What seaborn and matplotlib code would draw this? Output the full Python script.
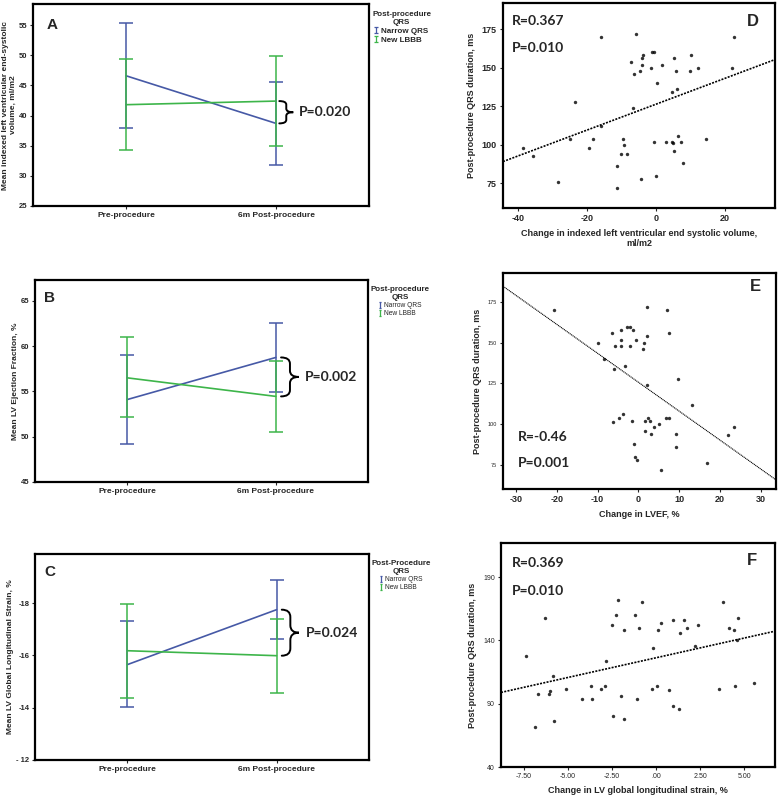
import numpy as np
import pandas as pd
import matplotlib
matplotlib.use("Agg")
import matplotlib.pyplot as plt
import seaborn as sns
from matplotlib.path import Path
from matplotlib.patches import PathPatch
from matplotlib.lines import Line2D

sns.set_style("ticks")
plt.rcParams['font.family'] = ['Liberation Sans', 'DejaVu Sans']
plt.rcParams['axes.linewidth'] = 1.6

BLUE = '#4659a6'
GREEN = '#3db54a'

time_labels = ['Pre-procedure', '6m Post-procedure']
groups = ['Narrow QRS', 'New LBBB']

# ---- Panel A: indexed LVESV ----
a_narrow_mean = [46.6, 38.7]
a_narrow_lo = [38.0, 31.8]
a_narrow_hi = [55.3, 45.6]
a_lbbb_mean = [41.8, 42.4]
a_lbbb_lo = [34.3, 34.9]
a_lbbb_hi = [49.3, 49.9]

# ---- Panel B: LVEF ----
b_narrow_mean = [54.1, 58.75]
b_narrow_lo = [49.2, 54.9]
b_narrow_hi = [59.0, 62.6]
b_lbbb_mean = [56.5, 54.45]
b_lbbb_lo = [52.2, 50.55]
b_lbbb_hi = [61.0, 58.4]

# ---- Panel C: GLS ----
c_narrow_mean = [-15.65, -17.75]
c_narrow_lo = [-13.99, -16.63]
c_narrow_hi = [-17.28, -18.86]
c_lbbb_mean = [-16.18, -15.99]
c_lbbb_lo = [-14.41, -14.57]
c_lbbb_hi = [-17.97, -17.43]

# ---- Panel D: change in LVESVi vs QRS ----
d_x = [-15.9, -5.9, 22.6, -1.2, -0.5, 10.1, -3.7, -4.2, 5.3, -7.4, -4.1, 1.7,
       -1.4, 12.2, 21.9, -4.6, 5.8, 9.8, -6.4, 0.1, 5.9, 4.7, -23.6, -6.8,
       -16.1, -25.0, -18.5, -9.7, 6.3, 14.6, -0.5, 2.8, 4.5, 4.8, 7.1, -38.8,
       -19.4, -9.3, -35.9, -10.2, -8.6, 5.3, 7.9, -11.5, -28.6, -4.5, -0.2, -11.3]
d_y = [170, 172, 170, 160, 160, 158, 158, 156, 156, 154, 152, 152,
       150, 150, 150, 148, 148, 148, 146, 140, 136, 134, 128, 124,
       112, 104, 104, 104, 106, 104, 102, 102, 102, 101, 102, 98,
       98, 100, 93, 94, 94, 96, 88, 86, 76, 78, 80, 72]

# ---- Panel E: change in LVEF vs QRS ----
e_x = [-20.8, 2.0, 7.0, -2.9, -2.0, -1.4, -4.4, -6.4, 7.6, 2.2, -4.4, -0.5,
       -10.0, 1.4, -5.8, -4.4, -2.0, 1.1, -8.4, -5.9, -3.3, 9.7, 2.1, 13.1,
       -4.7, -3.8, 2.4, 6.8, 7.6, -6.3, -1.6, 1.5, 2.9, 5.1, 3.8, 1.6,
       3.1, 9.3, 23.5, 22.0, -1.0, 9.3, -0.8, -0.4, 16.7, 5.6]
e_y = [170, 172, 170, 160, 160, 158, 158, 156, 156, 154, 152, 152,
       150, 150, 148, 148, 148, 146, 140, 134, 136, 128, 124, 112,
       104, 106, 104, 104, 104, 101, 102, 102, 102, 100, 98, 96,
       94, 94, 98, 93, 88, 86, 80, 78, 76, 72]

# ---- Panel F: change in GLS vs QRS ----
f_x = [-2.15, -0.81, 3.82, -6.29, -2.29, -1.19, 4.63, 0.28, 0.98, 1.61, -2.50,
       -1.00, 1.78, 2.40, 4.14, -1.80, 0.13, 4.42, 1.38, 4.57, 2.23, -0.15,
       -7.39, -2.85, -5.86, -6.73, -6.11, -6.01, -5.12, -3.71, -3.14, -2.93,
       -0.25, 0.04, 0.74, 3.55, 4.46, 5.54, -4.20, -3.63, -1.97, -1.06, 0.95,
       1.29, -2.46, -1.85, -5.82, -6.88]
f_y = [172, 170, 170, 158, 160, 160, 158, 154, 156, 156, 152,
       150, 150, 152, 150, 148, 148, 148, 146, 140, 136, 134,
       128, 124, 112, 98, 98, 100, 102, 104, 102, 104,
       102, 104, 101, 102, 104, 106, 94, 94, 96, 94, 88,
       86, 80, 78, 76, 72]

W, H = 778, 796
fig = plt.figure(figsize=(W / 100, H / 100), dpi=100)

IBEAM = Path([(-0.45, 1), (0.45, 1), (0, 1), (0, -1), (-0.45, -1), (0.45, -1)],
             [Path.MOVETO, Path.LINETO, Path.MOVETO, Path.LINETO, Path.MOVETO, Path.LINETO])


def rect(left, top, right, bottom):
    return [left / W, 1 - bottom / H, (right - left) / W, (bottom - top) / H]


def brace(ax, x0, y_top, y_bot, w):
    ym = (y_top + y_bot) / 2
    h = y_top - y_bot
    q = h * 0.16
    xm = x0 + w * 0.5
    verts = [(x0, y_top), (xm, y_top), (xm, y_top - q),
             (xm, ym + q),
             (xm, ym), (x0 + w, ym),
             (xm, ym), (xm, ym - q),
             (xm, y_bot + q),
             (xm, y_bot), (x0, y_bot)]
    codes = [Path.MOVETO, Path.CURVE3, Path.CURVE3,
             Path.LINETO,
             Path.CURVE3, Path.CURVE3,
             Path.CURVE3, Path.CURVE3,
             Path.LINETO,
             Path.CURVE3, Path.CURVE3]
    ax.add_patch(PathPatch(Path(verts, codes), fill=False, lw=1.4,
                           edgecolor='black', clip_on=False, capstyle='round'))


def line_panel(r, nm, nlo, nhi, lm, llo, lhi, ylim, yticks, yticklabels, ylabel,
               letter, letter_xy, legend_title, legend_bold, ptext,
               brace_x, brace_w, text_x):
    ax = fig.add_axes(r)
    df = pd.DataFrame({'time': [0, 1, 0, 1],
                       'mean': nm + lm,
                       'group': [groups[0]] * 2 + [groups[1]] * 2})
    sns.lineplot(data=df, x='time', y='mean', hue='group',
                 palette={groups[0]: BLUE, groups[1]: GREEN},
                 ax=ax, legend=False, lw=1.2)
    handles = []
    for m, lo, hi, c, g in [(nm, nlo, nhi, BLUE, groups[0]),
                            (lm, llo, lhi, GREEN, groups[1])]:
        m = np.array(m); lo = np.array(lo); hi = np.array(hi)
        err = np.vstack([np.abs(m - lo), np.abs(hi - m)])
        ax.errorbar([0, 1], m, yerr=err, fmt='none', ecolor=c,
                    elinewidth=1.1, capsize=5, capthick=1.1)
        handles.append(Line2D([], [], ls='none', marker=IBEAM,
                              markersize=5 if legend_bold else 4,
                              markeredgewidth=0.9, color=c, label=g))
    ax.set_xlim(-0.62, 1.62)
    ax.set_ylim(*ylim)
    ax.set_xticks([0, 1])
    ax.set_xticklabels(time_labels, fontsize=6, fontweight='bold')
    ax.set_yticks(yticks)
    ax.set_yticklabels(yticklabels, fontsize=5.5, fontweight='bold')
    ax.tick_params(length=2.5, width=0.8, pad=1.5)
    ax.set_xlabel('')
    ax.set_ylabel(ylabel, fontsize=6, fontweight='bold', labelpad=1.5, linespacing=1.1)
    for s in ax.spines.values():
        s.set_visible(True)
        s.set_color('black')
    ax.text(letter_xy[0], letter_xy[1], letter, transform=ax.transAxes,
            fontsize=11, fontweight='bold', ha='center', va='center')
    # brace and p-value between the two post-procedure means
    top_v, bot_v = nm[1], lm[1]
    brace(ax, brace_x, top_v, bot_v, brace_w)
    ax.text(text_x, (top_v + bot_v) / 2, ptext, fontsize=10, fontweight='bold',
            family=['Lato', 'DejaVu Sans'], ha='left', va='center')
    fw = 'bold' if legend_bold else 'normal'
    fs = 5.8 if legend_bold else 4.8
    leg = ax.legend(handles=handles, loc='upper left', bbox_to_anchor=(0.995, 0.99),
                    frameon=False, title=legend_title, alignment='center',
                    handlelength=0.4, handletextpad=0.4, labelspacing=0.15,
                    borderaxespad=0.2, prop={'size': fs, 'weight': fw},
                    title_fontproperties={'size': 5.8, 'weight': 'bold'})
    leg.get_title().set_multialignment('center')
    return ax


axA = line_panel(rect(33, 4, 369, 206), a_narrow_mean, a_narrow_lo, a_narrow_hi,
                 a_lbbb_mean, a_lbbb_lo, a_lbbb_hi, (25, 58.5),
                 [25, 30, 35, 40, 45, 50, 55], ['25', '30', '35', '40', '45', '50', '55'],
                 'Mean indexed left ventricular end-systolic\nvolume, ml/m2',
                 'A', (0.057, 0.896), 'Post-procedure\nQRS', True, 'P=0.020',
                 1.022, 0.093, 1.15)
axB = line_panel(rect(35, 280, 368, 482), b_narrow_mean, b_narrow_lo, b_narrow_hi,
                 b_lbbb_mean, b_lbbb_lo, b_lbbb_hi, (45, 67.3),
                 [45, 50, 55, 60, 65], ['45', '50', '55', '60', '65'],
                 'Mean LV Ejection Fraction, %',
                 'B', (0.045, 0.909), 'Post-procedure\nQRS', False, 'P=0.002',
                 1.035, 0.12, 1.195)
axC = line_panel(rect(35, 554, 369, 760), c_narrow_mean, c_narrow_lo, c_narrow_hi,
                 c_lbbb_mean, c_lbbb_lo, c_lbbb_hi, (-12, -19.88),
                 [-18, -16, -14, -12], ['-18', '-16', '-14', '- 12'],
                 'Mean LV Global Longitudinal Strain, %',
                 'C', (0.045, 0.914), 'Post-Procedure\nQRS', False, 'P=0.024',
                 1.035, 0.115, 1.195)


def scatter_panel(r, x, y, xlim, ylim, xticks, xticklabels, yticks, xtick_fs, xtick_fw,
                  ytick_fs, ytick_fw, xlabel, ylabel, letter, letter_xy,
                  rtext, ptext, r_xy, p_xy, line_ls, line_lw):
    ax = fig.add_axes(r)
    ax.set_xlim(*xlim)
    ax.set_ylim(*ylim)
    sns.regplot(x=np.array(x), y=np.array(y), ax=ax, ci=None, truncate=False,
                scatter_kws=dict(s=6, color='black', linewidths=0),
                line_kws=dict(color='black', lw=line_lw, ls=line_ls))
    ax.set_xlim(*xlim)
    ax.set_ylim(*ylim)
    ax.set_xticks(xticks)
    ax.set_xticklabels(xticklabels, fontsize=xtick_fs, fontweight=xtick_fw)
    ax.set_yticks(yticks)
    ax.set_yticklabels([str(v) for v in yticks], fontsize=ytick_fs, fontweight=ytick_fw)
    ax.tick_params(length=2.5, width=0.8, pad=2)
    ax.set_xlabel(xlabel, fontsize=6.5, fontweight='bold', labelpad=4)
    ax.set_ylabel(ylabel, fontsize=6.5, fontweight='bold', labelpad=4)
    for s in ax.spines.values():
        s.set_visible(True)
        s.set_color('black')
    ax.text(letter_xy[0], letter_xy[1], letter, transform=ax.transAxes,
            fontsize=12, fontweight='bold', ha='center', va='center')
    ax.text(r_xy[0], r_xy[1], rtext, transform=ax.transAxes, fontsize=10,
            fontweight='bold', family=['Lato', 'DejaVu Sans'], ha='left', va='center')
    ax.text(p_xy[0], p_xy[1], ptext, transform=ax.transAxes, fontsize=10,
            fontweight='bold', family=['Lato', 'DejaVu Sans'], ha='left', va='center')
    return ax


axD = scatter_panel(rect(503, 3, 775, 208), d_x, d_y, (-44.5, 34.5), (59, 192),
                    [-40, -20, 0, 20], ['-40', '-20', '0', '20'], [75, 100, 125, 150, 175],
                    6.5, 'bold', 6.5, 'bold',
                    'Change in indexed left ventricular end systolic volume,\nml/m2',
                    'Post-procedure QRS duration, ms', 'D', (0.92, 0.912),
                    'R=0.367', 'P=0.010', (0.033, 0.912), (0.033, 0.78),
                    (0, (1.2, 0.8)), 1.2)
axE = scatter_panel(rect(503, 273, 776, 489), e_x, e_y, (-33.2, 33.7), (60, 193),
                    [-30, -20, -10, 0, 10, 20, 30],
                    ['-30', '-20', '-10', '0', '10', '20', '30'], [75, 100, 125, 150, 175],
                    6.5, 'bold', 4.0, 'normal',
                    'Change in LVEF, %',
                    'Post-procedure QRS duration, ms', 'E', (0.923, 0.937),
                    'R=-0.46', 'P=0.001', (0.055, 0.242), (0.055, 0.119),
                    (0, (1.0, 0.6)), 0.8)
axF = scatter_panel(rect(501, 543, 775, 767), f_x, f_y, (-8.81, 6.75), (40, 217),
                    [-7.5, -5.0, -2.5, 0.0, 2.5, 5.0],
                    ['-7.50', '-5.00', '-2.50', '.00', '2.50', '5.00'], [40, 90, 140, 190],
                    5.0, 'normal', 5.0, 'normal',
                    'Change in LV global longitudinal strain, %',
                    'Post-procedure QRS duration, ms', 'F', (0.915, 0.921),
                    'R=0.369', 'P=0.010', (0.039, 0.912), (0.039, 0.786),
                    (0, (1.2, 0.8)), 1.2)

fig.savefig('out.png', dpi=100)
